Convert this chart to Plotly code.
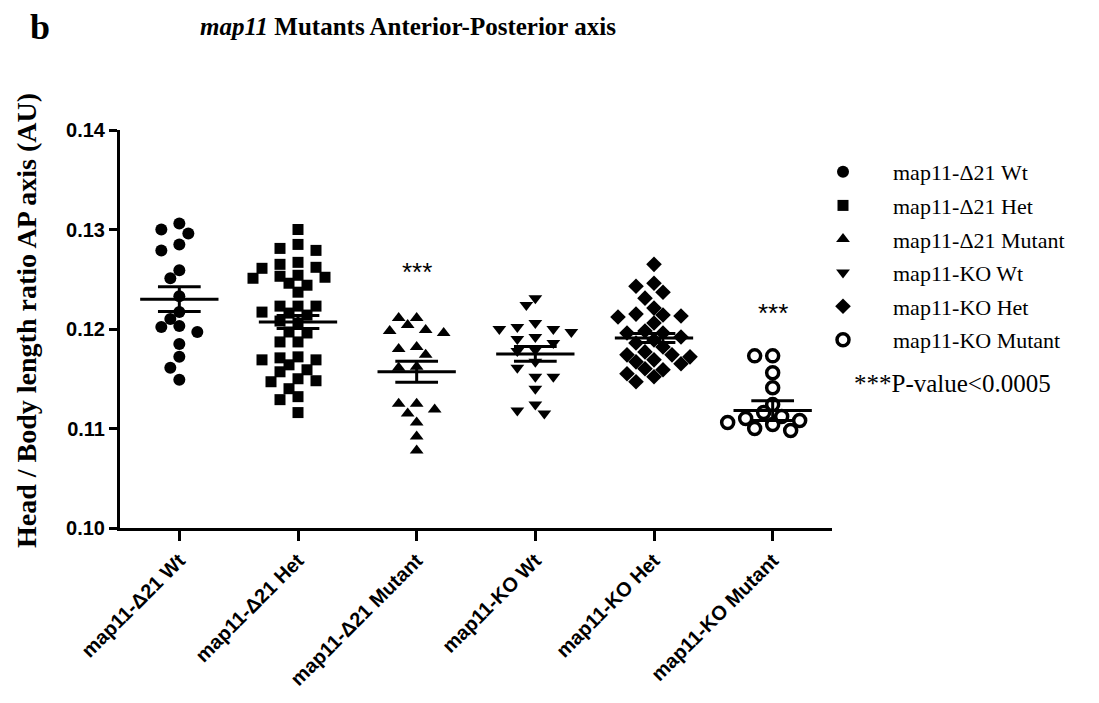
import plotly.graph_objects as go

# ---------------- data ----------------
categories = ["map11-Δ21 Wt", "map11-Δ21 Het", "map11-Δ21 Mutant",
              "map11-KO Wt", "map11-KO Het", "map11-KO Mutant"]

d21_wt = [0.1306, 0.1300, 0.1296, 0.1285, 0.1279, 0.1259, 0.1251, 0.1233, 0.1217,
          0.1210, 0.1203, 0.1202, 0.1197, 0.1185, 0.1172, 0.1161, 0.1149]
d21_het = [0.1300, 0.1285, 0.1281, 0.1279, 0.1267, 0.1265, 0.1262, 0.1261, 0.1254,
           0.1253, 0.1252, 0.1251, 0.1246, 0.1244, 0.1237, 0.1223, 0.1223, 0.1223,
           0.1217, 0.1216, 0.1214, 0.1208, 0.1206, 0.1197, 0.1196, 0.1187, 0.1187,
           0.1172, 0.1171, 0.1169, 0.1169, 0.1164, 0.1159, 0.1157, 0.1150, 0.1148,
           0.1147, 0.1140, 0.1132, 0.1129, 0.1116]
d21_mut = [0.1211, 0.1211, 0.1204, 0.1199, 0.1198, 0.1196, 0.1182, 0.1180, 0.1174,
           0.1162, 0.1161, 0.1125, 0.1125, 0.1119, 0.1115, 0.1106, 0.1092, 0.1078]
ko_wt = [0.1231, 0.1224, 0.1206, 0.1202, 0.1200, 0.1200, 0.1197, 0.1192, 0.1190,
         0.1186, 0.1179, 0.1178, 0.1167, 0.1161, 0.1152, 0.1152, 0.1140, 0.1124,
         0.1118, 0.1115]
ko_het = [0.1265, 0.1246, 0.1243, 0.1237, 0.1231, 0.1221, 0.1215, 0.1214, 0.1213,
          0.1212, 0.1206, 0.1198, 0.1196, 0.1196, 0.1192, 0.1189, 0.1186, 0.1182,
          0.1177, 0.1174, 0.1174, 0.1172, 0.1169, 0.1167, 0.1165, 0.1160, 0.1159,
          0.1155, 0.1152, 0.1147]
ko_mut = [0.1173, 0.1173, 0.1156, 0.1141, 0.1124, 0.1116, 0.1112, 0.1110, 0.1108,
          0.1106, 0.1104, 0.1100, 0.1098]

groups = [d21_wt, d21_het, d21_mut, ko_wt, ko_het, ko_mut]

means = [0.1230, 0.1207, 0.1157, 0.1175, 0.1191, 0.1118]
sems = [0.00125, 0.00065, 0.00105, 0.00075, 0.00045, 0.00100]

y_ticks = [0.10, 0.11, 0.12, 0.13, 0.14]
signif_groups = [2, 5]
signif_y = [0.1257, 0.1216]

# ---------------- layout constants ----------------
PAGE_OFF = 8                      # browser body margin
W, H = 1099 - PAGE_OFF, 703 - PAGE_OFF
PL, PR, PT, PB = 120, 832, 130, 528   # plot area in page pixels
L, T = PL - PAGE_OFF, PT - PAGE_OFF
R, B = W - (PR - PAGE_OFF), H - (PB - PAGE_OFF)
PLOT_W = PR - PL
PLOT_H = PB - PT
X_RANGE = [-0.5, 5.5]
Y_RANGE = [0.10, 0.14]
PX_X = PLOT_W / (X_RANGE[1] - X_RANGE[0])
PX_Y = PLOT_H / (Y_RANGE[1] - Y_RANGE[0])


def px(xp):
    return (xp - PL) / PLOT_W


def py(yp):
    return (PB - yp) / PLOT_H


symbols = ["circle", "square", "triangle-up", "triangle-down", "diamond", "circle-open"]
sizes = [12, 11, 12, 12, 12, 12]


def swarm(vals, diam, step):
    placed = []
    offs = []
    cands = [0]
    for i in range(1, 12):
        cands += [-i * step, i * step]
    for v in vals:
        chosen = cands[-1]
        for c in cands:
            if all((c - qx) ** 2 + ((v - qv) * PX_Y) ** 2 >= diam ** 2 for qx, qv in placed):
                chosen = c
                break
        placed.append((chosen, v))
        offs.append(chosen / PX_X)
    return offs


fig = go.Figure()

serif = "Liberation Serif"
sans = "Liberation Sans"

for i, (vals, name) in enumerate(zip(groups, categories)):
    offs = swarm(vals, 11, 9)
    xs = [i + o for o in offs]
    marker = dict(symbol=symbols[i], size=sizes[i], color="black")
    if symbols[i] == "circle-open":
        marker["line"] = dict(width=3.5, color="black")
    else:
        marker["line"] = dict(width=0)
    fig.add_trace(go.Scatter(x=xs, y=vals, mode="markers", marker=marker,
                             name=name, legendgroup=f"g{i}", showlegend=True,
                             hoverinfo="y"))

# mean and SEM lines
for i, (m, s) in enumerate(zip(means, sems)):
    hw_mean = 0.33
    hw_sem = 0.18
    fig.add_trace(go.Scatter(
        x=[i - hw_mean, i + hw_mean, None, i - hw_sem, i + hw_sem, None,
           i - hw_sem, i + hw_sem, None, i, i],
        y=[m, m, None, m + s, m + s, None, m - s, m - s, None, m - s, m + s],
        mode="lines", line=dict(color="black", width=3),
        showlegend=False, hoverinfo="skip"))

# significance stars
for gi, yv in zip(signif_groups, signif_y):
    fig.add_annotation(x=gi, y=yv, text="***", showarrow=False,
                       font=dict(family=sans, size=26, color="black"),
                       xanchor="center", yanchor="middle")

# titles
fig.add_annotation(xref="paper", yref="paper", x=px(28), y=py(27),
                   text="<b>b</b>", showarrow=False, xanchor="left", yanchor="middle",
                   font=dict(family=serif, size=36, color="black"))
fig.add_annotation(xref="paper", yref="paper", x=px(198), y=py(27),
                   text="<b><i>map11</i> Mutants Anterior-Posterior axis</b>",
                   showarrow=False, xanchor="left", yanchor="middle",
                   font=dict(family=serif, size=25, color="black"))
fig.add_annotation(xref="paper", yref="paper", x=px(26), y=py(321),
                   text="<b>Head / Body length ratio AP axis (AU)</b>",
                   textangle=-90, showarrow=False, xanchor="center", yanchor="middle",
                   font=dict(family=serif, size=28, color="black"))
fig.add_annotation(xref="paper", yref="paper", x=px(952), y=py(383),
                   text="***P-value<0.0005", showarrow=False,
                   xanchor="center", yanchor="middle",
                   font=dict(family=serif, size=25, color="black"))

fig.update_xaxes(range=X_RANGE, tickvals=list(range(len(categories))),
                 ticktext=[f"<b>{c}</b>" for c in categories], tickangle=-45,
                 tickfont=dict(family=sans, size=20, color="black"),
                 showline=True, linecolor="black", linewidth=3,
                 ticks="outside", ticklen=10, tickwidth=3, tickcolor="black",
                 showgrid=False, zeroline=False)
fig.update_yaxes(range=Y_RANGE, tickvals=y_ticks,
                 ticktext=[f"<b>{t:.2f}</b>" for t in y_ticks],
                 tickfont=dict(family=sans, size=20, color="black"),
                 showline=True, linecolor="black", linewidth=3,
                 ticks="outside", ticklen=8, tickwidth=3, tickcolor="black",
                 showgrid=False, zeroline=False)

fig.update_layout(
    width=W, height=H, autosize=False,
    margin=dict(l=L, r=R, t=T, b=B),
    plot_bgcolor="white", paper_bgcolor="white",
    showlegend=True,
    legend=dict(x=px(793), y=py(151),
                xanchor="left", yanchor="top",
                font=dict(family=serif, size=22, color="black"),
                tracegroupgap=2, itemwidth=90,
                bgcolor="rgba(0,0,0,0)"),
)

fig.write_html("out.html")
